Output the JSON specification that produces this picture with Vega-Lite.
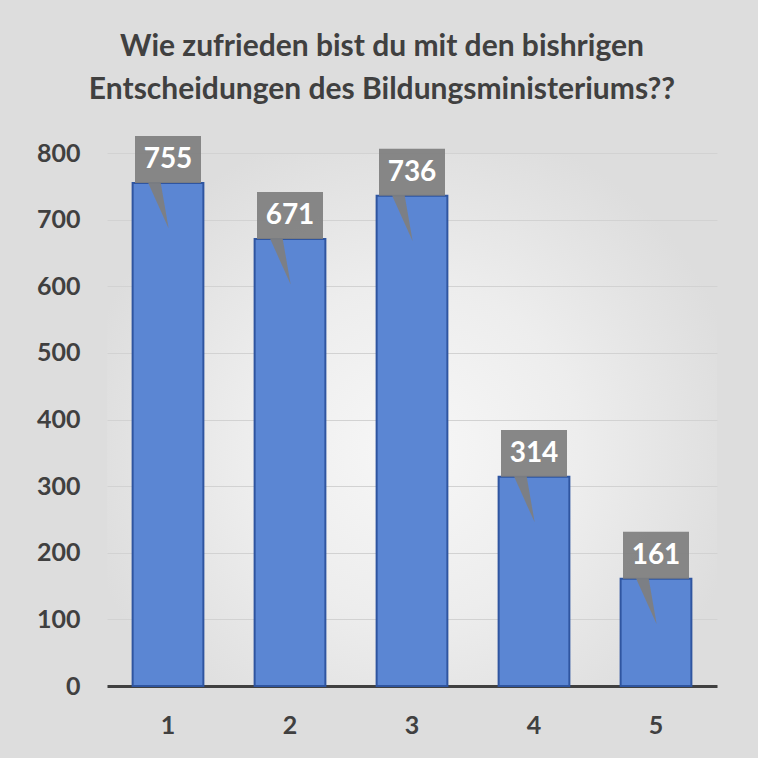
{
  "$schema": "https://vega.github.io/schema/vega-lite/v6.json",
  "width": 610,
  "height": 533,
  "autosize": "none",
  "padding": {"left": 107, "top": 153, "right": 41, "bottom": 72},
  "background": "#dddddd",
  "title": {
    "text": ["Wie zufrieden bist du mit den bishrigen", "Entscheidungen des Bildungsministeriums??"],
    "font": "Lato",
    "fontSize": 30,
    "fontWeight": "bold",
    "color": "#404040",
    "lineHeight": 43,
    "anchor": "middle",
    "dx": -30,
    "offset": 31
  },
  "config": {
    "view": {
      "stroke": null,
      "fill": {
        "gradient": "radial",
        "x1": 0.5, "y1": 0.55, "x2": 0.5, "y2": 0.55, "r1": 0, "r2": 0.55,
        "stops": [
          {"offset": 0, "color": "#f7f7f7"},
          {"offset": 0.5, "color": "#ededed"},
          {"offset": 1, "color": "#dddddd"}
        ]
      }
    }
  },
  "data": {
    "values": [
      {"kategorie": "1", "anzahl": 755},
      {"kategorie": "2", "anzahl": 671},
      {"kategorie": "3", "anzahl": 736},
      {"kategorie": "4", "anzahl": 314},
      {"kategorie": "5", "anzahl": 161}
    ]
  },
  "encoding": {
    "x": {
      "field": "kategorie",
      "type": "ordinal",
      "scale": {"paddingInner": 0.42, "paddingOuter": 0.21},
      "axis": {
        "title": null,
        "labelAngle": 0,
        "labelFont": "Lato",
        "labelFontSize": 25,
        "labelFontWeight": "bold",
        "labelColor": "#404040",
        "labelPadding": 27,
        "ticks": false,
        "domainColor": "#404040",
        "domainWidth": 3
      }
    },
    "y": {
      "field": "anzahl",
      "type": "quantitative",
      "scale": {"domain": [0, 800], "nice": false},
      "axis": {
        "title": null,
        "values": [0, 100, 200, 300, 400, 500, 600, 700, 800],
        "labelFont": "Lato",
        "labelFontSize": 25,
        "labelFontWeight": "bold",
        "labelColor": "#404040",
        "labelPadding": 27,
        "ticks": false,
        "domain": false,
        "gridColor": "#d2d2d2",
        "gridWidth": 1
      }
    }
  },
  "layer": [
    {
      "mark": {"type": "bar", "fill": "#5b86d3", "stroke": "#2f55a0", "strokeWidth": 2}
    },
    {
      "mark": {
        "type": "point",
        "shape": "M-1,-1.42L1,-1.42L1,0L-0.22,0L0.02,1.38L-0.6,0L-1,0Z",
        "size": 4356,
        "filled": true,
        "color": "#7f7f7f",
        "opacity": 0.93,
        "strokeWidth": 0
      }
    },
    {
      "mark": {
        "type": "text",
        "font": "Lato",
        "fontSize": 28,
        "fontWeight": "bold",
        "color": "#ffffff",
        "baseline": "middle",
        "dy": -23
      },
      "encoding": {"text": {"field": "anzahl", "type": "quantitative"}}
    }
  ]
}
